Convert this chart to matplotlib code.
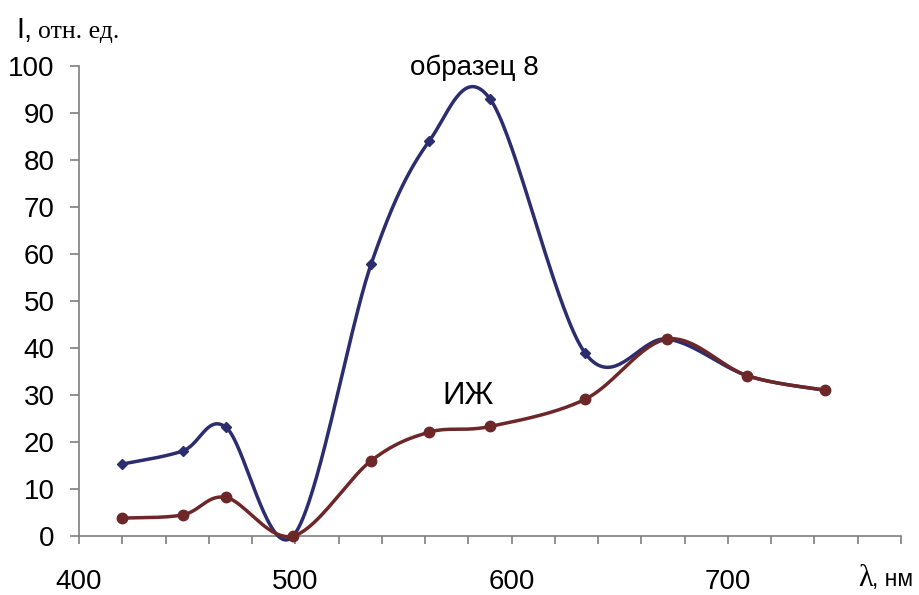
import numpy as np
import matplotlib
matplotlib.use("Agg")
import matplotlib.pyplot as plt
from matplotlib.ticker import MultipleLocator, FuncFormatter

# Wavelengths, nm
wavelength = [420, 448, 468, 499, 535, 562, 590, 634, 672, 709, 745]
# Intensity, relative units
sample8 = [15.3, 18.1, 23.1, 0.0, 57.8, 84.1, 93.0, 38.9, 41.9, 34.1, 31.0]
izh = [3.8, 4.5, 8.2, 0.0, 16.0, 22.1, 23.3, 29.1, 41.9, 34.1, 31.0]

x_ticks = [400, 500, 600, 700]
y_ticks = [0, 10, 20, 30, 40, 50, 60, 70, 80, 90, 100]

W, H = 919, 595


def smooth(xs, ys, n=40):
    """Piecewise cubic Bezier smoothing through the points (Catmull-Rom tangents)."""
    p = np.column_stack([xs, ys]).astype(float)
    m = len(p)
    out = []
    for i in range(m - 1):
        p0 = p[max(i - 1, 0)]
        p1 = p[i]
        p2 = p[i + 1]
        p3 = p[min(i + 2, m - 1)]
        c1 = p1 + (p2 - p0) / 6.0
        c2 = p2 - (p3 - p1) / 6.0
        t = np.linspace(0, 1, n)[:, None]
        seg = ((1 - t) ** 3) * p1 + 3 * ((1 - t) ** 2) * t * c1 \
            + 3 * (1 - t) * t ** 2 * c2 + t ** 3 * p2
        out.append(seg if i == 0 else seg[1:])
    c = np.vstack(out)
    return c[:, 0], c[:, 1]


fig = plt.figure(figsize=(W / 100, H / 100), dpi=100)
ax = fig.add_axes([79 / W, (H - 536) / H, (901 - 79) / W, 470 / H])

blue = "#2B2D6E"
red = "#6E2728"

sx, sy = smooth(wavelength, sample8)
ax.plot(sx, sy, color=blue, lw=2.5, clip_on=False, solid_capstyle="round", zorder=3)
ax.plot(wavelength, sample8, "D", color=blue, ms=5.5, clip_on=False, zorder=4)

rx, ry = smooth(wavelength, izh)
ax.plot(rx, ry, color=red, lw=2.5, clip_on=False, solid_capstyle="round", zorder=5)
ax.plot(wavelength, izh, "o", color=red, ms=7.5, clip_on=False, zorder=6)

ax.set_xlim(400, 780)
ax.set_ylim(0, 100)

ax.xaxis.set_major_locator(MultipleLocator(20))
ax.xaxis.set_major_formatter(FuncFormatter(
    lambda v, pos: f"{int(round(v))}" if int(round(v)) in x_ticks else ""))
ax.set_yticks(y_ticks)

for s in ("top", "right"):
    ax.spines[s].set_visible(False)
for s in ("left", "bottom"):
    ax.spines[s].set_color("#7f7f7f")
    ax.spines[s].set_linewidth(1.2)

ax.tick_params(axis="x", direction="out", length=5.5, width=1.2, color="#7f7f7f",
               pad=18, labelsize=20)
ax.tick_params(axis="y", direction="out", length=6.5, width=1.2, color="#7f7f7f",
               pad=11, labelsize=20)
for lab in ax.get_xticklabels() + ax.get_yticklabels():
    lab.set_fontfamily("Liberation Sans")

# Curve captions
ax.text(583, 98.1, "образец 8", ha="center", va="baseline",
        fontsize=20, family="Liberation Sans")
ax.text(580, 28.1, "ИЖ", ha="center", va="baseline",
        fontsize=22.5, family="Liberation Sans")

# Axis titles
fig.text(16 / W, (H - 38) / H, "I,", ha="left", va="baseline",
         fontsize=21, family="Liberation Sans")
fig.text(38 / W, (H - 38) / H, "отн. ед.", ha="left", va="baseline",
         fontsize=18.5, family="Liberation Serif")
fig.text(858 / W, (H - 586) / H, "λ", ha="left", va="baseline",
         fontsize=22, family="Liberation Serif")
fig.text(872 / W, (H - 586) / H, ", нм", ha="left", va="baseline",
         fontsize=16.5, family="Liberation Sans")

fig.savefig("out.png", dpi=100)
